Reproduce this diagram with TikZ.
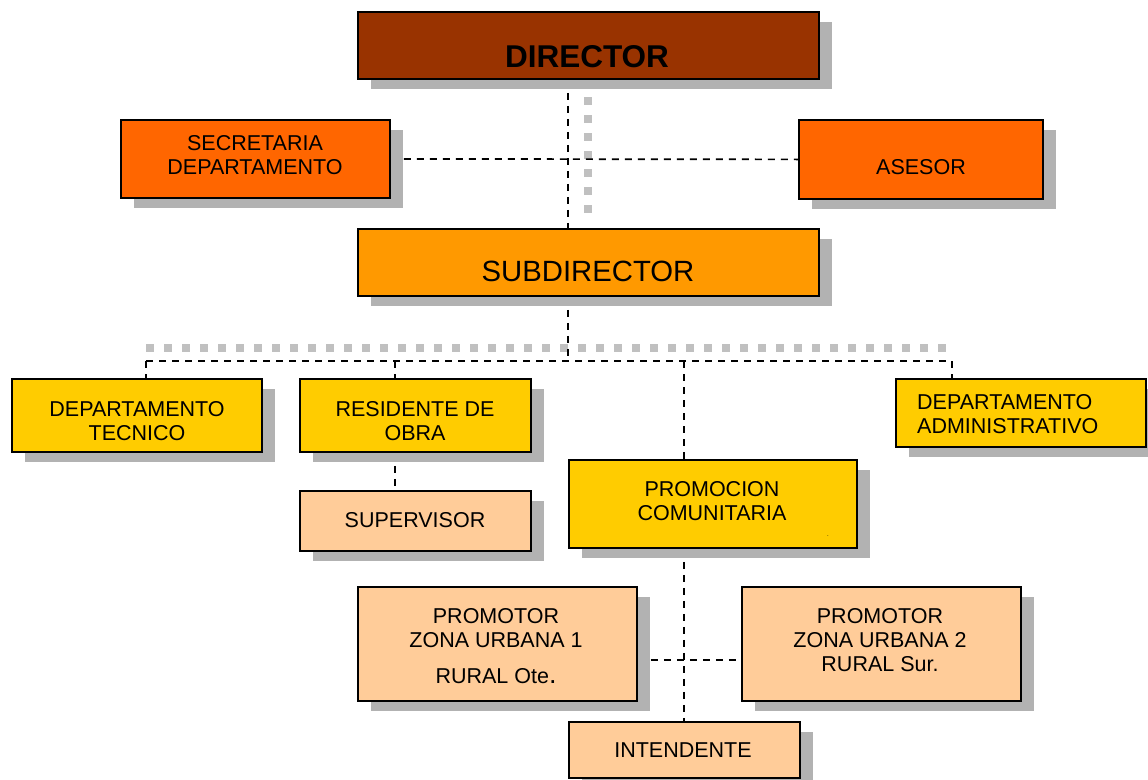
\documentclass[tikz,border=0pt]{standalone}
\usepackage{fontspec}
\setmainfont{Liberation Sans}
\usetikzlibrary{shadows}
\pgfdeclarelayer{background}
\pgfsetlayers{background,main}
\definecolor{cDir}{HTML}{993300}
\definecolor{cSec}{HTML}{FF6600}
\definecolor{cSub}{HTML}{FF9900}
\definecolor{cDep}{HTML}{FFCC00}
\definecolor{cLow}{HTML}{FFCC99}
\definecolor{shadowgray}{HTML}{B2B2B2}
\definecolor{ghostgray}{HTML}{C0C0C0}
\begin{document}
\begin{tikzpicture}[x=1pt,y=-1pt,
  box/.style={draw=black, line width=1.8pt, rectangle, inner sep=0pt, anchor=north west,
    drop shadow={shadow xshift=13pt, shadow yshift=-10pt, fill=shadowgray, opacity=1}},
  lbl/.style={font=\fontsize{21.5}{24}\selectfont, align=center, inner sep=0pt},
  link/.style={line width=1.7pt, dash pattern=on 7pt off 6pt},
  ghost/.style={line width=8pt, color=ghostgray, dash pattern=on 8pt off 10pt}]
\useasboundingbox (0,0) rectangle (1148,779);

% boxes
\node[box, fill=cDir, minimum width=461pt, minimum height=67pt] (dir) at (357,11) {};
\node[box, fill=cSec, minimum width=269pt, minimum height=78pt] (sec) at (120,119) {};
\node[box, fill=cSec, minimum width=244pt, minimum height=79pt] (ase) at (798,119) {};
\node[box, fill=cSub, minimum width=461pt, minimum height=67pt] (sub) at (357,228) {};
\node[box, fill=cDep, minimum width=250pt, minimum height=73pt] (tec) at (11,378) {};
\node[box, fill=cDep, minimum width=231pt, minimum height=73pt] (res) at (299,378) {};
\node[box, fill=cLow, minimum width=231pt, minimum height=60pt] (sup) at (299,490) {};
\node[box, fill=cDep, minimum width=288pt, minimum height=88pt] (pro) at (568,459) {};
\node[box, fill=cDep, minimum width=250pt, minimum height=68pt] (adm) at (895,378) {};
\node[box, fill=cLow, minimum width=279pt, minimum height=114pt] (pr1) at (357,586) {};
\node[box, fill=cLow, minimum width=279pt, minimum height=114pt] (pr2) at (741,586) {};
\node[box, fill=cLow, minimum width=231pt, minimum height=56pt] (int) at (568,721) {};

% labels
\node[lbl, font=\fontsize{31.5}{31.5}\selectfont\bfseries] (dirT) at (587,57) {DIRECTOR};
\node[lbl] (secT) at (255,155) {SECRETARIA\\DEPARTAMENTO};
\node[lbl] (aseT) at (921,167) {ASESOR};
\node[lbl, font=\fontsize{29.3}{29.3}\selectfont] (subT) at (588,271) {SUBDIRECTOR};
\node[lbl] (tecT) at (137,421) {DEPARTAMENTO\\TECNICO};
\node[lbl] (resT) at (415,421) {RESIDENTE DE\\OBRA};
\node[lbl] (supT) at (415,520) {SUPERVISOR};
\node[lbl] (proT) at (712,501) {PROMOCION\\COMUNITARIA};
\node[lbl, align=left, anchor=west] (admT) at (917,414) {DEPARTAMENTO\\ADMINISTRATIVO};
\node[lbl] (pr1T) at (496,646) {PROMOTOR\\ZONA URBANA 1\\[12pt]RURAL Ote{\fontsize{27}{27}\selectfont .}};
\node[lbl] (pr2T) at (880,640) {PROMOTOR\\ZONA URBANA 2\\RURAL Sur.};
\node[lbl] (intT) at (683,750) {INTENDENTE};
\node[inner sep=0pt, font=\fontsize{6}{6}\selectfont] (mark) at (828,536) {.};

% guide coordinates for the connector lines
\coordinate (spine) at (568,361);
\coordinate (ghostV) at (588,79);
\coordinate (ghostEnd) at (588,218);
\coordinate (dTec) at (146,361);
\coordinate (dRes) at (395,361);
\coordinate (dPro) at (684,361);
\coordinate (dAdm) at (952,361);
\coordinate (gA) at (146,348);
\coordinate (gB) at (952,348);
\coordinate (prLink) at (0,660);

\begin{pgfonlayer}{background}
  \draw[ghost] (ghostV) -- (ghostEnd);
  \draw[ghost] (gA) -- (gB);
  \draw[link] (dir.south -| spine) -- (sub.north -| spine);
  \draw[link] (sec.east) -- (ase.west);
  \draw[link] (sub.south -| spine) -- (spine);
  \draw[link] (dTec) -- (dAdm);
  \draw[link] (dTec) -- (dTec |- tec.north);
  \draw[link] (dRes) -- (dRes |- res.north);
  \draw[link] (dPro) -- (dPro |- pro.north);
  \draw[link] (dAdm) -- (dAdm |- adm.north);
  \draw[link] (dRes |- res.south) -- (dRes |- sup.north);
  \draw[link] (dPro |- pro.south) -- (dPro |- int.north);
  \draw[link] (pr1.east |- prLink) -- (pr2.west |- prLink);
\end{pgfonlayer}
\end{tikzpicture}
\end{document}
